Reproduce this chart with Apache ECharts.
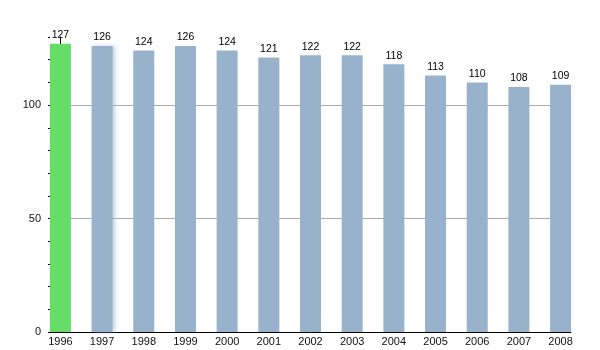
<!DOCTYPE html>
<html>
<head>
<meta charset="utf-8">
<script src="https://cdn.jsdelivr.net/npm/echarts@6/dist/echarts.min.js"></script>
<style>
  html, body { margin: 0; padding: 0; background: #fff; }
  #chart { width: 600px; height: 350px; }
</style>
</head>
<body>
<div id="chart"></div>
<script>
// Yearly values, 1996–2008
const years = ['1996', '1997', '1998', '1999', '2000', '2001', '2002', '2003', '2004', '2005', '2006', '2007', '2008'];
const values = [127, 126, 124, 126, 124, 121, 122, 122, 118, 113, 110, 108, 109];
const yLabelValues = [0, 50, 100];
const majorLines = [50, 100];

const FONT = 'Liberation Sans, Arial, sans-serif';
const BLUE = '#98b2cc';
const GREEN = '#66dd66';

const indexes = years.map((_, i) => i);

const barData = values.map((v, i) => {
  const item = { value: [i, v] };
  if (i === 0) item.itemStyle = { color: GREEN };
  if (i === 1) item.itemStyle = { color: BLUE, shadowColor: 'rgba(152,178,204,0.6)', shadowBlur: 4, shadowOffsetX: 2 };
  return item;
});

const chart = echarts.init(document.getElementById('chart'), null, { renderer: 'canvas' });
chart.setOption({
  animation: false,
  grid: { left: 50, right: 29, top: 37, bottom: 18 },
  xAxis: {
    type: 'value',
    min: -0.25,
    max: 12.25,
    splitLine: { show: false },
    axisTick: { show: false },
    axisLine: { show: true, onZero: false, lineStyle: { color: '#000', width: 1 } },
    axisLabel: {
      customValues: indexes,
      formatter: v => years[v],
      color: '#111',
      fontFamily: FONT,
      fontSize: 11,
      margin: 4
    }
  },
  yAxis: [
    {
      type: 'value',
      min: 0,
      max: 130,
      interval: 10,
      position: 'left',
      axisLine: { show: true, lineStyle: { color: '#000', width: 1 } },
      axisTick: { show: true, customValues: yLabelValues, length: 5, lineStyle: { color: '#000' } },
      axisLabel: {
        customValues: yLabelValues,
        color: '#111',
        fontFamily: FONT,
        fontSize: 11,
        margin: 9
      },
      splitLine: { show: true, lineStyle: { color: '#e8e8e8', width: 1 } }
    },
    {
      // minor ticks every 10
      type: 'value',
      min: 0,
      max: 130,
      interval: 10,
      position: 'left',
      offset: 0,
      axisLine: { show: false },
      axisTick: { show: true, length: 2, lineStyle: { color: '#000' } },
      axisLabel: { show: false },
      splitLine: { show: false }
    }
  ],
  series: [
    {
      type: 'bar',
      data: barData,
      barWidth: 21,
      itemStyle: { color: BLUE },
      label: {
        show: true,
        position: 'top',
        distance: 3,
        formatter: p => p.value[1],
        color: '#000',
        fontFamily: FONT,
        fontSize: 10.5
      },
      markLine: {
        silent: true,
        z: 1,
        symbol: 'none',
        label: { show: false },
        lineStyle: { color: '#aaaaaa', type: 'solid', width: 1 },
        data: majorLines.map(v => ({ yAxis: v }))
      }
    }
  ]
});
</script>
</body>
</html>
